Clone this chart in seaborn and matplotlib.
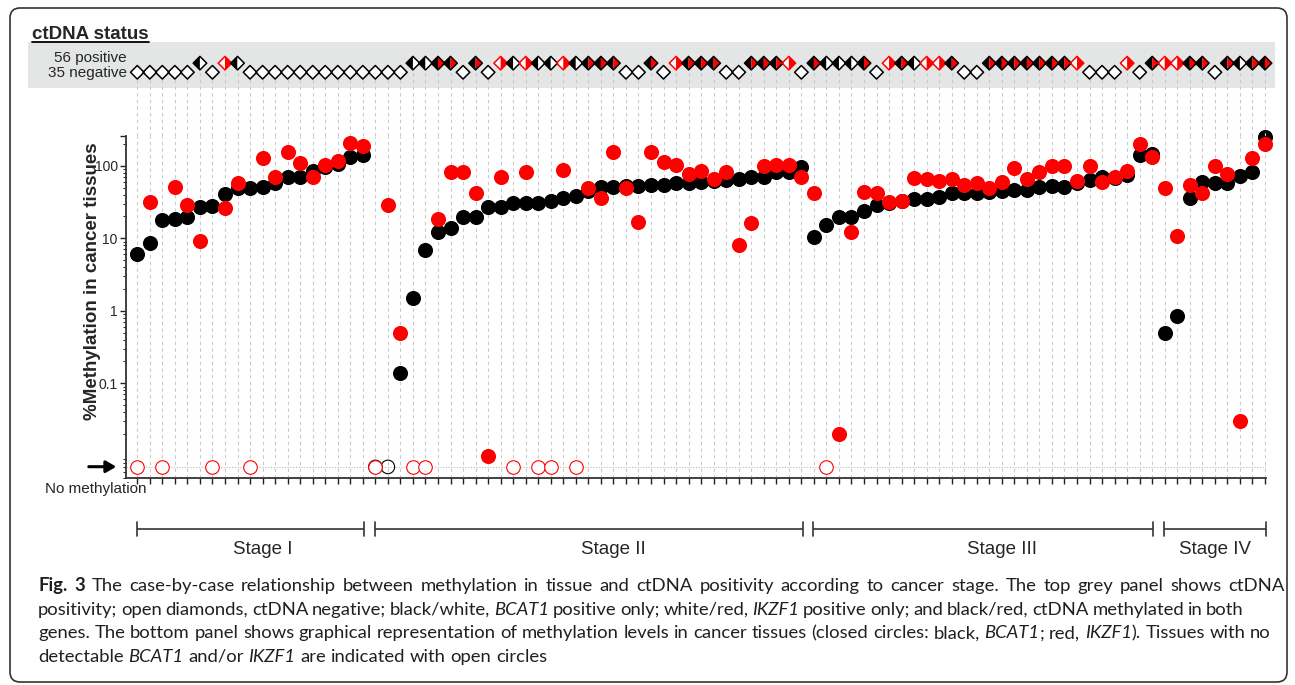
import numpy as np
import pandas as pd
import matplotlib
matplotlib.use("Agg")
import matplotlib.pyplot as plt
import seaborn as sns
from matplotlib.path import Path
from matplotlib.patches import Rectangle, FancyBboxPatch, FancyArrowPatch
from matplotlib.lines import Line2D
from matplotlib.transforms import IdentityTransform
from matplotlib.ticker import FixedLocator, FixedFormatter, LogLocator, NullFormatter

# ---------------- data ----------------
stages = ["Stage I", "Stage II", "Stage III", "Stage IV"]
stage_sizes = [19, 35, 28, 9]
stage_label_pos = [10.0, 38.0, 69.0, 86.0]

# % methylation in tissue (0 = no methylation detected)
bcat1 = [6.0, 8.7, 17.8, 18.5, 19.8, 27, 27.5, 41, 48.8, 50, 51, 58, 69, 69, 84.5, 95, 105, 130, 140,
         0, 0, 0.14, 1.48, 6.9, 12, 14, 19.8, 19.8, 26.7, 27, 31, 31, 31, 32.6, 35.8, 38, 45, 51, 51,
         52, 52.5, 54, 54, 57, 57, 60, 62, 63.5, 65, 69, 69, 83, 83, 97,
         10.3, 15, 19.8, 19.8, 24, 28.7, 31, 33, 34.7, 34.7, 36.6, 41.6, 42, 42, 43.7, 44.5, 46, 46,
         51, 53, 51, 57, 63.5, 70, 68, 74.5, 140, 143,
         0.49, 0.85, 35.5, 60, 58, 58, 72, 83, 247]
ikzf1 = [0, 32, 0, 51, 28.5, 9.2, 0, 26, 58, 0, 128, 70, 153, 110, 70, 102, 117, 204, 187,
         0, 28.5, 0.49, 0, 0, 18.6, 81, 83, 42, 0.01, 70, 0, 82, 0, 0, 87, 0, 48.8, 35.8, 153,
         48.8, 16.9, 153, 111, 101, 78, 85, 65, 83, 8.0, 16, 99, 102, 102, 69,
         41.6, 0, 0.02, 12, 43.7, 42, 31.8, 32.6, 68, 66, 61.5, 65, 53.6, 57, 49.8, 59, 92, 66,
         81, 99, 100, 62, 99, 60, 69, 85, 199, 130,
         48.8, 10.7, 54, 41.6, 100, 77, 0.03, 126, 199]
# ctDNA status: N negative, B BCAT1 only, I IKZF1 only, BI both
ctdna = ["N", "N", "N", "N", "N", "B", "N", "I", "B", "N", "N", "N", "N", "N", "N", "N", "N", "N", "N",
         "N", "N", "N", "B", "B", "BI", "BI", "N", "BI", "N", "I", "B", "I", "B", "B", "I", "B", "BI",
         "BI", "BI", "N", "N", "BI", "N", "I", "BI", "BI", "BI", "N", "N", "BI", "BI", "BI", "I", "N",
         "BI", "B", "B", "B", "BI", "N", "I", "BI", "B", "I", "I", "BI", "N", "N", "BI", "BI", "BI",
         "BI", "BI", "BI", "BI", "I", "N", "N", "N", "I", "N", "BI",
         "I", "I", "BI", "BI", "N", "BI", "B", "BI", "BI"]
positive_label = "56 positive"
negative_label = "35 negative"
ytick_values = [0.1, 1, 10, 100, 256]
ytick_labels = ["0.1", "1", "10", "100", ""]
NO_METH = 0.007

RED = "#ff0000"
BLACK = "#000000"

# ---------------- style ----------------
sns.set_style("ticks")
plt.rcParams["font.family"] = ["Liberation Sans", "DejaVu Sans"]

W, H = 1295, 685
fig = plt.figure(figsize=(W / 100, H / 100), dpi=100)
fig.patch.set_facecolor("white")


def fx(px):
    return px / W


def fy(py):
    return 1 - py / H


n = len(bcat1)
cases = np.arange(n)
xlim = (-0.9, n - 1 + 0.05)
ax_l, ax_r = fx(126), fx(1265.6)
ax_w = ax_r - ax_l

# ---------------- main panel ----------------
ax = fig.add_axes([ax_l, fy(477.7), ax_w, (477.7 - 136) / H])
ax.set_yscale("log")
ax.set_xlim(*xlim)
ax.set_ylim(0.00497, 257)

df = pd.DataFrame({
    "case": np.tile(cases, 2),
    "gene": ["BCAT1"] * n + ["IKZF1"] * n,
    "value": bcat1 + ikzf1,
})
df["detected"] = df["value"] > 0
df["plot_value"] = np.where(df["detected"], df["value"], NO_METH)

for c in cases:
    ax.axvline(c, color="#c9c9c9", lw=0.8, ls=(0, (3, 3)), zorder=0)
ax.axhline(NO_METH, color="#bdbdbd", lw=0.8, ls=(0, (1, 1.5)), zorder=0)

b = df[df.gene == "BCAT1"]
r = df[df.gene == "IKZF1"]
sns.scatterplot(data=b[~b.detected], x="case", y="plot_value", s=95, facecolors="none",
                edgecolor=BLACK, linewidth=0.8, ax=ax, zorder=3, legend=False, clip_on=False)
sns.scatterplot(data=b[b.detected], x="case", y="plot_value", s=118, color=BLACK,
                linewidth=0, ax=ax, zorder=4, legend=False, clip_on=False)
sns.scatterplot(data=r[~r.detected], x="case", y="plot_value", s=95, facecolors="white",
                edgecolor=RED, linewidth=0.8, ax=ax, zorder=5, legend=False, clip_on=False)
sns.scatterplot(data=r[r.detected], x="case", y="plot_value", s=118, color=RED,
                linewidth=0, ax=ax, zorder=6, legend=False, clip_on=False)

ax.set_xlabel("")
ax.set_ylabel("")
ax.set_xticks(cases)
ax.set_xticklabels([])
ax.yaxis.set_major_locator(FixedLocator(ytick_values))
ax.yaxis.set_major_formatter(FixedFormatter(ytick_labels))
ax.yaxis.set_minor_locator(LogLocator(base=10, subs=np.arange(2, 10), numticks=20))
ax.yaxis.set_minor_formatter(NullFormatter())
ax.tick_params(axis="x", direction="out", length=4.5, width=1.0, color="#222")
ax.tick_params(axis="y", which="major", direction="out", length=4.5, width=1.0, color="#222",
               labelsize=10, pad=1.5)
ax.tick_params(axis="y", which="minor", direction="out", length=2.2, width=0.7, color="#222")
for side in ["top", "right"]:
    ax.spines[side].set_visible(False)
for side in ["left", "bottom"]:
    ax.spines[side].set_linewidth(1.3)
    ax.spines[side].set_color("#333333")
ax.grid(False)

# ---------------- top ctDNA panel ----------------
fig.add_artist(Rectangle((fx(28), fy(88)), fx(1275) - fx(28), 46 / H, transform=fig.transFigure,
                         facecolor="#e4e6e5", edgecolor="none", zorder=-1))
ax_top = fig.add_axes([ax_l, fy(136), ax_w, 94 / H])
ax_top.set_xlim(*xlim)
ax_top.set_ylim(0, 1)
ax_top.axis("off")
ax_top.patch.set_visible(False)

POS_Y, NEG_Y = 0.775, 0.678
dy = np.array([NEG_Y if s == "N" else POS_Y for s in ctdna])
ax_top.vlines(cases, 0, dy - 0.05, color="#c9c9c9", lw=0.8, ls=(0, (3, 3)), zorder=0)

left_half = Path([(0, 1), (-1, 0), (0, -1), (0, 1)], closed=True)
right_half = Path([(0, 1), (1, 0), (0, -1), (0, 1)], closed=True)
full_d = Path([(0, 1), (1, 0), (0, -1), (-1, 0), (0, 1)], closed=True)
ds = 95
lcol = [BLACK if "B" in s else "white" for s in ctdna]
rcol = [RED if "I" in s else "white" for s in ctdna]
ecol = [RED if s == "I" else BLACK for s in ctdna]
ax_top.scatter(cases, dy, marker=left_half, s=ds, c=lcol, linewidths=0, zorder=2, clip_on=False)
ax_top.scatter(cases, dy, marker=right_half, s=ds, c=rcol, linewidths=0, zorder=2, clip_on=False)
ax_top.scatter(cases, dy, marker=full_d, s=ds, facecolors="none", edgecolors=ecol,
               linewidths=1.1, zorder=3, clip_on=False)

fig.text(fx(127), fy(58), positive_label, ha="right", va="center", fontsize=11)
fig.text(fx(127), fy(72.5), negative_label, ha="right", va="center", fontsize=11)
title = fig.text(fx(32), fy(39), "ctDNA status", ha="left", va="baseline", fontsize=13.5,
                 fontweight="bold")

# ---------------- stage brackets ----------------
ax_st = fig.add_axes([ax_l, fy(555.2), ax_w, 41.4 / H])
ax_st.set_xlim(*xlim)
ax_st.set_ylim(0, 1)
ax_st.axis("off")
ax_st.patch.set_visible(False)
start = 0
for name, size, lx in zip(stages, stage_sizes, stage_label_pos):
    x0, x1 = start - 0.05, start + size - 1 + 0.1
    ax_st.plot([x0, x1], [0.637, 0.637], color="#333", lw=1.2, solid_capstyle="butt", clip_on=False)
    ax_st.plot([x0, x0], [0.467, 0.79], color="#333", lw=1.2, clip_on=False)
    ax_st.plot([x1, x1], [0.467, 0.79], color="#333", lw=1.2, clip_on=False)
    ax_st.text(lx, 0.127, name, ha="center", va="center", fontsize=13.5)
    start += size

# ---------------- axis annotations ----------------
fig.text(fx(93), fy(281), "%Methylation in cancer tissues", rotation=90, ha="center",
         va="center", fontsize=13.5, fontweight="bold")
fig.text(fx(96), fy(489), "No methylation", ha="center", va="center", fontsize=11)
fig.add_artist(FancyArrowPatch((fx(86), fy(466.7)), (fx(119), fy(466.7)),
                               transform=fig.transFigure, arrowstyle="-|>,head_length=6,head_width=3.5",
                               color="black", lw=2.2, mutation_scale=1))

# ---------------- caption (word-placed lines) ----------------
renderer = fig.canvas.get_renderer()
cap_family = ["Lato", "DejaVu Sans"]


def words(text, style="n"):
    return [[(w, style)] for w in text.split()]


caption = [
    [[("Fig.", "b")], [("3", "b")]] + words(
        "The case-by-case relationship between methylation in tissue and ctDNA positivity "
        "according to cancer stage. The top grey panel shows ctDNA"),
    words("positivity; open diamonds, ctDNA negative; black/white,") + [[("BCAT1", "i")]]
    + words("positive only; white/red,") + [[("IKZF1", "i")]]
    + words("positive only; and black/red, ctDNA methylated in both"),
    words("genes. The bottom panel shows graphical representation of methylation levels in cancer "
          "tissues (closed circles: black,") + [[("BCAT1", "i"), (";", "n")]] + words("red,")
    + [[("IKZF1", "i"), (").", "n")]] + words("Tissues with no"),
    words("detectable") + [[("BCAT1", "i")]] + words("and/or") + [[("IKZF1", "i")]]
    + words("are indicated with open circles"),
]
targets = [1285, 1182, 1271, None]
CAP_X = 38


def make(txt, st, fs, x=0.0, y=0.0):
    return fig.text(x / W, 1 - y / H, txt, fontsize=fs, family=cap_family,
                    fontweight="bold" if st == "b" else "normal",
                    fontstyle="italic" if st == "i" else "normal",
                    ha="left", va="baseline", color="#231f20")


def width(txt, st, fs):
    t = make(txt, st, fs)
    w = t.get_window_extent(renderer).width
    t.remove()
    return w


def word_width(word, fs):
    return sum(width(txt, st, fs) for txt, st in word)


BASE = 12.0
sp_base = width("a a", "n", BASE) - width("aa", "n", BASE)
line3 = caption[2]
nat3 = sum(word_width(wd, BASE) for wd in line3) + sp_base * (len(line3) - 1)
cap_fs = BASE * (targets[2] - CAP_X) / nat3
sp = sp_base * cap_fs / BASE

for i, (line, tgt) in enumerate(zip(caption, targets)):
    base_y = 591 + i * 23.6
    wws = [word_width(wd, cap_fs) for wd in line]
    if tgt is None:
        gap = sp
    else:
        adj = (tgt - CAP_X - sum(wws) - sp * (len(line) - 1)) / (len(line) - 1)
        gap = sp + float(np.clip(adj, -1.0, 3.0))
    x = CAP_X
    for wd, ww in zip(line, wws):
        xx = x
        for txt, st in wd:
            t = make(txt, st, cap_fs, xx, base_y)
            xx += t.get_window_extent(renderer).width
        x += ww + gap

# underline for panel title
bb = title.get_window_extent(renderer)
fig.add_artist(Line2D([bb.x0 / W, bb.x1 / W], [fy(41.5), fy(41.5)], transform=fig.transFigure,
                      color="black", lw=1.3))

# outer rounded frame
fig.add_artist(FancyBboxPatch((10, H - 682), 1277, 674, boxstyle="round,pad=0,rounding_size=10",
                              transform=IdentityTransform(), fill=False, edgecolor="#333",
                              lw=1.2))

fig.savefig("out.png", dpi=100)
